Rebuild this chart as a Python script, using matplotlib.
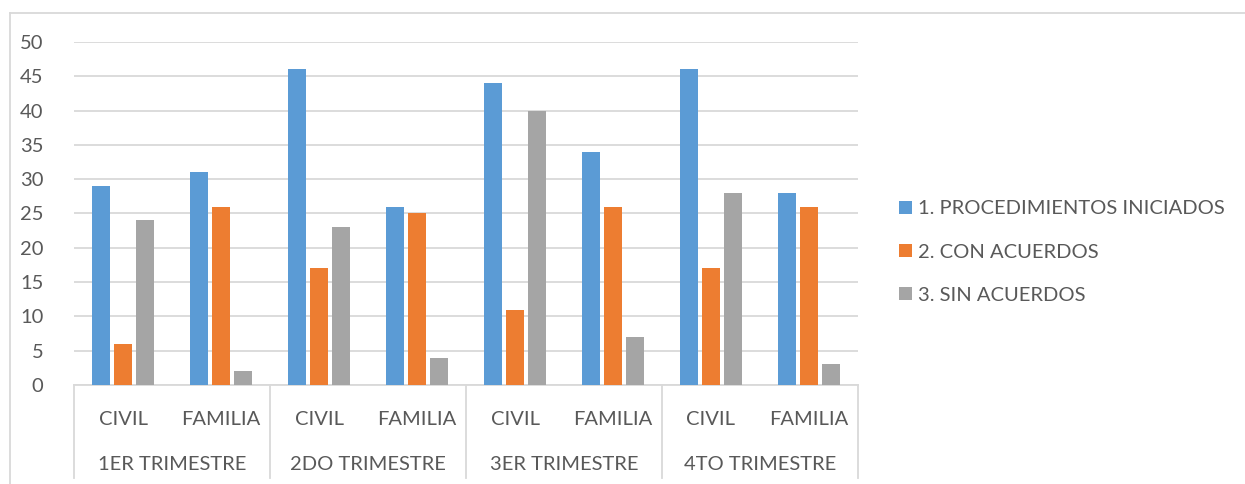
import numpy as np
import matplotlib
matplotlib.use("Agg")
import matplotlib.pyplot as plt
from matplotlib.lines import Line2D
from matplotlib.patches import Patch

plt.rcParams['font.family'] = ['Lato', 'DejaVu Sans']

# data
subcats = ["CIVIL", "FAMILIA"] * 4
groups = ["1ER TRIMESTRE", "2DO TRIMESTRE", "3ER TRIMESTRE", "4TO TRIMESTRE"]
series_names = ["1. PROCEDIMIENTOS INICIADOS", "2. CON ACUERDOS", "3. SIN ACUERDOS"]
iniciados = [29, 31, 46, 26, 44, 34, 46, 28]
con_acuerdos = [6, 26, 17, 25, 11, 26, 17, 26]
sin_acuerdos = [24, 2, 23, 4, 40, 7, 28, 3]
colors = ["#5B9BD5", "#ED7D31", "#A5A5A5"]

W, H = 1245, 484
fig = plt.figure(figsize=(W / 100, H / 100), dpi=100)
ax = fig.add_axes([74 / W, (H - 385) / H, (858 - 74) / W, (385 - 42) / H])

text_col = "#595959"
grid_col = "#D9D9D9"
fs = 14.5

x = np.arange(len(subcats))
bw = 0.175
step = 0.224
for i, (vals, c) in enumerate(zip([iniciados, con_acuerdos, sin_acuerdos], colors)):
    ax.bar(x + (i - 1) * step, vals, width=bw, color=c, zorder=3)

ax.set_xlim(-0.5, len(subcats) - 0.5)
ax.set_ylim(0, 50)
ax.set_yticks(range(0, 51, 5))
ax.yaxis.grid(True, color=grid_col, linewidth=1.3, zorder=0)
ax.tick_params(axis='y', length=0, labelsize=fs, labelcolor=text_col, pad=22)
ax.set_xticks(x)
ax.set_xticklabels(subcats)
ax.tick_params(axis='x', length=0, labelsize=fs, labelcolor=text_col, pad=19)
for s in ["top", "right", "left"]:
    ax.spines[s].set_visible(False)
ax.spines["bottom"].set_color(grid_col)
ax.spines["bottom"].set_linewidth(1.3)

# multi-level category axis
ybot = (385 - 478) / (385 - 42)
trans = ax.get_xaxis_transform()
for b in np.arange(-0.5, len(subcats), 2):
    ax.add_line(Line2D([b, b], [0, ybot], transform=trans, color=grid_col,
                       linewidth=1.3, clip_on=False))
for g, name in enumerate(groups):
    ax.text(2 * g + 0.5, (385 - 464) / (385 - 42), name, transform=trans,
            ha='center', va='center', fontsize=fs, color=text_col)

# outer chart border
fig.add_artist(Line2D([10 / W, 10 / W], [0, (H - 13) / H], color=grid_col, linewidth=1.3))
fig.add_artist(Line2D([10 / W, 1], [(H - 13) / H, (H - 13) / H], color=grid_col, linewidth=1.3))

handles = [Patch(facecolor=c) for c in colors]
leg = fig.legend(handles, series_names, loc='center left', bbox_to_anchor=(881 / W, (H - 252) / H),
                 frameon=False, fontsize=fs, labelcolor=text_col, handlelength=0.65,
                 handleheight=0.65, handletextpad=0.3, labelspacing=1.3)

fig.savefig("out.png", dpi=100, facecolor="white")
